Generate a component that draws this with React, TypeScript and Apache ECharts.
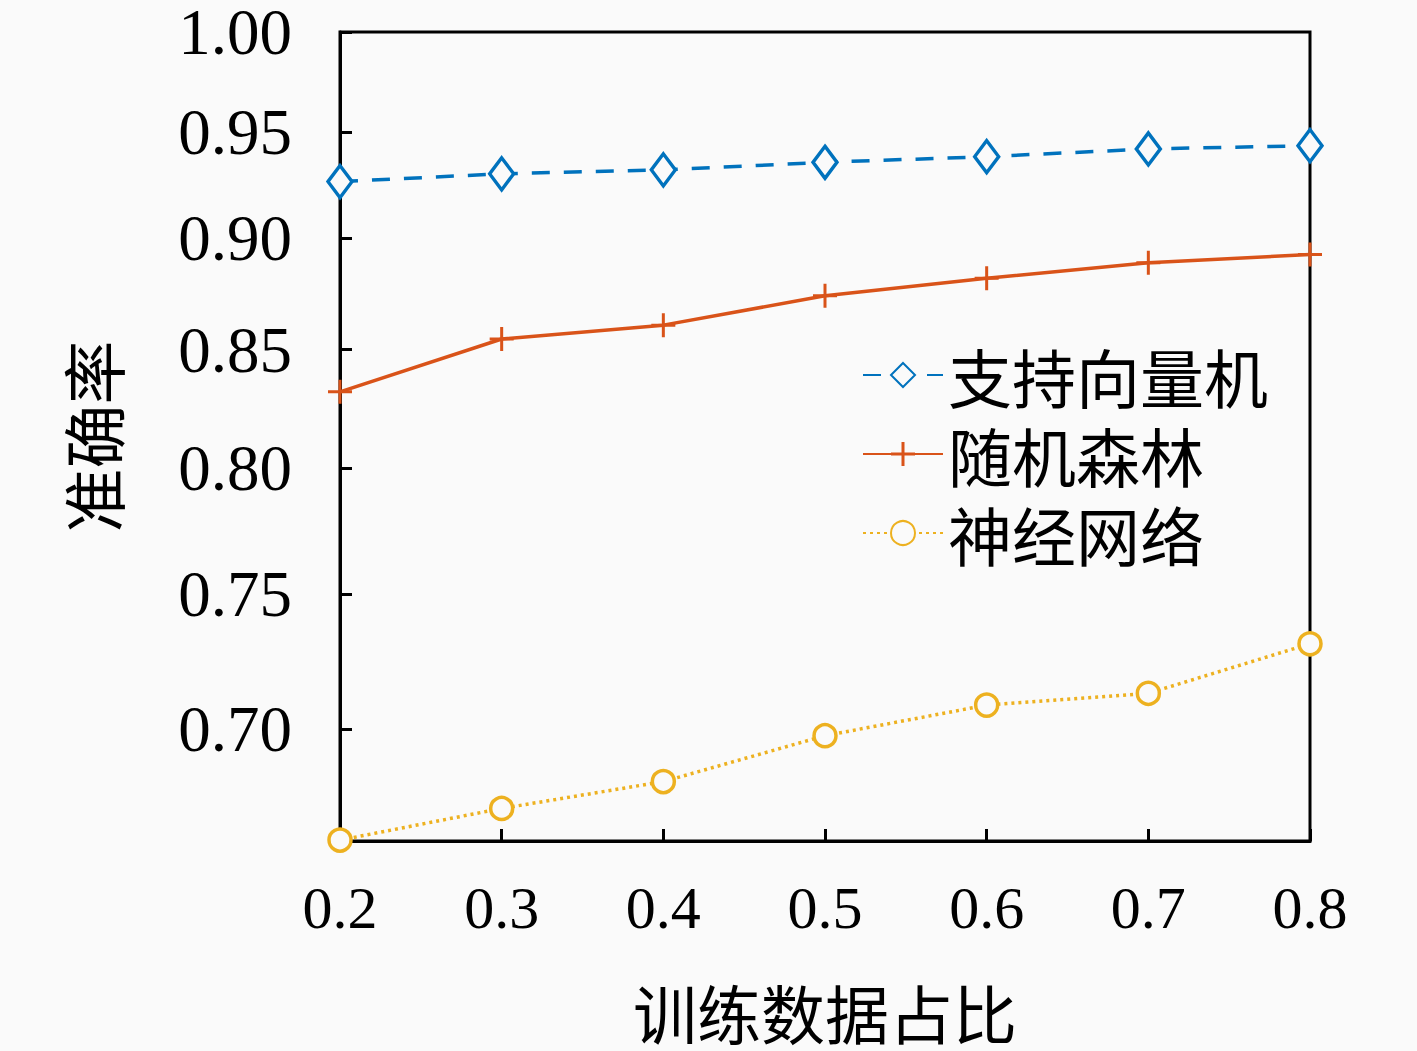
import React, { useEffect, useRef } from "react";
import * as echarts from "echarts";

// ---- data ----
const trainRatios = [0.2, 0.3, 0.4, 0.5, 0.6, 0.7, 0.8];
const svmAccuracy = [0.9263, 0.93, 0.9319, 0.9355, 0.9382, 0.9419, 0.9435];
const rfAccuracy = [0.8318, 0.8546, 0.8607, 0.8737, 0.8816, 0.8886, 0.8924];
const nnAccuracy = [0.6613, 0.6721, 0.6814, 0.6976, 0.7086, 0.7129, 0.7312];
const seriesNames = ["支持向量机", "随机森林", "神经网络"];
const xTickValues = [0.2, 0.3, 0.4, 0.5, 0.6, 0.7, 0.8];
const yTickValues = [0.7, 0.75, 0.8, 0.85, 0.9, 0.95, 1.0];
const yRange = [0.661, 1.0];
const xRange = [0.2, 0.8];

// The y axis of the reference is logarithmic: values are placed in ln space.
const toLog = (v: number) => Math.log(v);

const SERIF = "'Liberation Serif', 'Times New Roman', serif";
const CJK = "'Noto Sans CJK SC', 'Noto Sans', sans-serif";
const BG = "#fafafa";
const PLUS =
  "path://M10.5,0h3v10.5h10.5v3h-10.5v10.5h-3v-10.5h-10.5v-3h10.5z";

function pairs(values: number[]) {
  return trainRatios.map((x, i) => [x, toLog(values[i])]);
}

export default function App() {
  const ref = useRef<HTMLDivElement | null>(null);

  useEffect(() => {
    document.body.style.margin = "0";
    const chart = echarts.init(ref.current!, null, { renderer: "svg" });
    const option: any = {
      animation: false,
      backgroundColor: BG,
      grid: {
        left: 340,
        top: 32,
        right: 107,
        bottom: 210,
        containLabel: false,
        outerBoundsMode: "none",
        show: true,
        borderColor: "#000",
        borderWidth: 3,
        backgroundColor: "transparent",
      },
      legend: {
        orient: "vertical",
        left: 862,
        top: 343,
        itemWidth: 80,
        itemHeight: 30,
        itemGap: 15,
        padding: 0,
        data: seriesNames,
        textStyle: {
          fontSize: 64,
          lineHeight: 62,
          fontFamily: CJK,
          color: "#000",
        },
      },
      xAxis: {
        type: "value",
        min: xRange[0],
        max: xRange[1],
        name: "训练数据占比",
        nameLocation: "middle",
        nameGap: 138,
        nameTextStyle: { fontSize: 64, fontFamily: CJK, color: "#000" },
        splitLine: { show: false },
        axisLine: {
          show: true,
          onZero: false,
          lineStyle: { color: "#000", width: 3 },
        },
        axisTick: {
          show: true,
          inside: true,
          length: 12,
          customValues: xTickValues,
          lineStyle: { color: "#000", width: 3 },
        },
        axisLabel: {
          customValues: xTickValues,
          margin: 37,
          fontSize: 60,
          fontFamily: SERIF,
          color: "#000",
          formatter: (v: number) => v.toFixed(1),
        },
      },
      yAxis: {
        type: "value",
        min: toLog(yRange[0]),
        max: toLog(yRange[1]),
        name: "准确率",
        nameLocation: "middle",
        nameRotate: 90,
        nameGap: 217,
        nameTextStyle: { fontSize: 64, fontFamily: CJK, color: "#000" },
        splitLine: { show: false },
        axisLine: {
          show: true,
          onZero: false,
          lineStyle: { color: "#000", width: 3 },
        },
        axisTick: {
          show: true,
          inside: true,
          length: 12,
          customValues: yTickValues.map(toLog),
          lineStyle: { color: "#000", width: 3 },
        },
        axisLabel: {
          customValues: yTickValues.map(toLog),
          margin: 48,
          fontSize: 65,
          fontFamily: SERIF,
          color: "#000",
          formatter: (v: number) => Math.exp(v).toFixed(2),
        },
      },
      series: [
        {
          name: seriesNames[0],
          type: "line",
          data: pairs(svmAccuracy),
          clip: false,
          symbol: "diamond",
          symbolSize: [24, 32],
          itemStyle: { color: BG, borderColor: "#0072BD", borderWidth: 3.5 },
          lineStyle: { color: "#0072BD", width: 3.5, type: [18, 14] },
          z: 3,
        },
        {
          name: seriesNames[1],
          type: "line",
          data: pairs(rfAccuracy),
          clip: false,
          symbol: PLUS,
          symbolSize: 24,
          itemStyle: { color: "#D95319" },
          lineStyle: { color: "#D95319", width: 3.5, type: "solid" },
          z: 3,
        },
        {
          name: seriesNames[2],
          type: "line",
          data: pairs(nnAccuracy),
          clip: false,
          symbol: "circle",
          symbolSize: 22,
          itemStyle: { color: BG, borderColor: "#EDB120", borderWidth: 3.5 },
          lineStyle: { color: "#EDB120", width: 3.5, type: [3, 4] },
          z: 3,
        },
      ],
    };
    chart.setOption(option);
    return () => chart.dispose();
  }, []);

  return (
    <div
      ref={ref}
      style={{ position: "absolute", left: 0, top: 0, width: 1417, height: 1051 }}
    />
  );
}
